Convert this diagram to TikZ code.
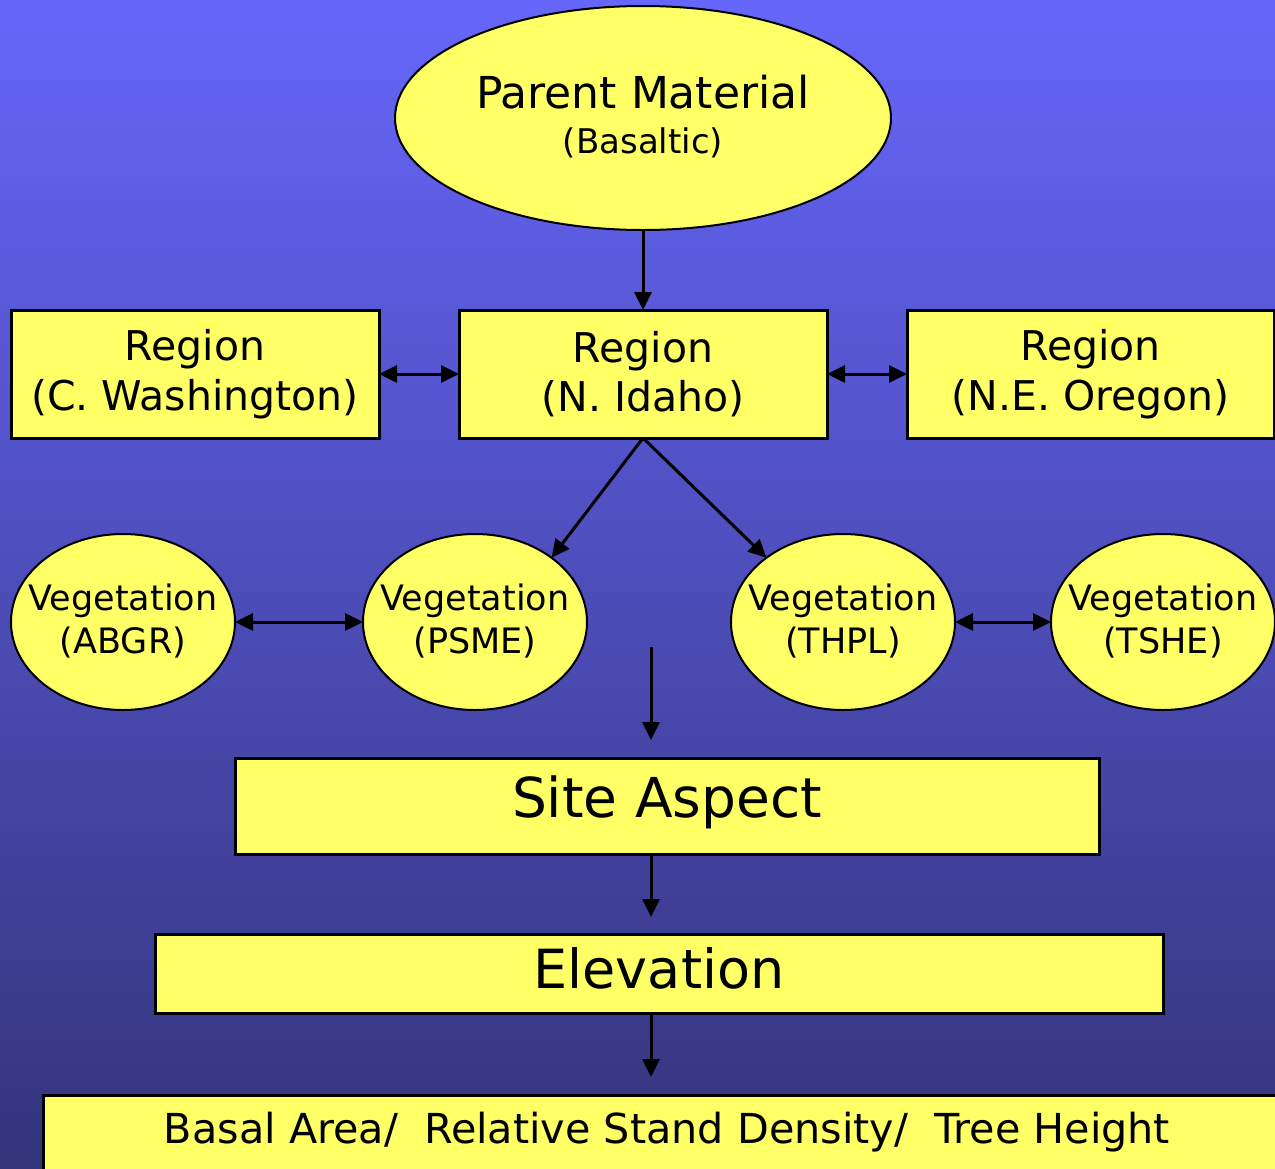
\documentclass[tikz,border=0pt]{standalone}
\usepackage{fontspec}
\setmainfont{DejaVu Sans}
\usetikzlibrary{shapes.geometric,arrows.meta,calc}
\definecolor{bgtop}{RGB}{102,102,250}
\definecolor{bgbot}{RGB}{52,52,122}
\definecolor{boxyellow}{RGB}{255,255,102}
\tikzset{
  ybox/.style={draw=black, line width=3pt, fill=boxyellow, rectangle, inner sep=0pt, outer sep=0pt, align=center},
  yell/.style={draw=black, line width=2pt, fill=boxyellow, ellipse, inner sep=0pt, outer sep=0pt},
  txt/.style={inner sep=0pt, align=center},
  arr/.style={line width=3pt, -{Triangle[length=18pt,width=17pt]}},
  darr/.style={line width=3pt, {Triangle[length=18pt,width=17pt]}-{Triangle[length=18pt,width=17pt]}},
  regfont/.style={font=\fontsize{41}{50}\selectfont},
  vegfont/.style={font=\fontsize{35}{43}\selectfont},
}
\begin{document}
\begin{tikzpicture}[x=1pt,y=-1pt]
\useasboundingbox (0,0) rectangle (1275,1168);
\clip (0,0) rectangle (1275,1168);
\shade[top color=bgtop, bottom color=bgbot] (0,0) rectangle (1275,1168);

% parent material
\node[yell, minimum width=496pt, minimum height=224pt] (parent) at (643,118) {};
\node[txt, font=\fontsize{44}{51}\selectfont] (parenttxt) at (643,92) {Parent Material};
\node[txt, font=\fontsize{34}{40}\selectfont] (basalttxt) at (643,143) {(Basaltic)};

% regions
\node[ybox, regfont, minimum width=368pt, minimum height=128pt] (wash) at (195,374) {\raisebox{3pt}{\shortstack{Region\\[7pt](C. Washington)}}};
\node[ybox, regfont, minimum width=368pt, minimum height=128pt] (idaho) at (643,374) {\raisebox{3pt}{\shortstack{Region\\[7pt](N. Idaho)}}};
\node[ybox, regfont, minimum width=367pt, minimum height=128pt] (oregon) at (1090.5,374) {\raisebox{3pt}{\shortstack{Region\\[7pt](N.E. Oregon)}}};

% vegetation
\node[yell, minimum width=224pt, minimum height=176pt] (abgr) at (123,622) {};
\node[yell, minimum width=224pt, minimum height=176pt] (psme) at (475,622) {};
\node[yell, minimum width=224pt, minimum height=176pt] (thpl) at (843,622) {};
\node[yell, minimum width=224pt, minimum height=176pt] (tshe) at (1163,622) {};
\node[txt, vegfont] (abgrtxt) at ([yshift=1pt]abgr.center) {Vegetation\\(ABGR)};
\node[txt, vegfont] (psmetxt) at ([yshift=1pt]psme.center) {Vegetation\\(PSME)};
\node[txt, vegfont] (thpltxt) at ([yshift=1pt]thpl.center) {Vegetation\\(THPL)};
\node[txt, vegfont] (tshetxt) at ([yshift=1pt]tshe.center) {Vegetation\\(TSHE)};

% site aspect, elevation
\node[ybox, minimum width=864pt, minimum height=96pt] (site) at (667,806) {};
\node[txt, font=\fontsize{55}{60}\selectfont] (sitetxt) at (667,802) {Site Aspect};
\node[ybox, minimum width=1008pt, minimum height=79pt] (elev) at (659,973.5) {};
\node[txt, font=\fontsize{54}{60}\selectfont] (elevtxt) at (659,968) {Elevation};

% bottom box
\node[ybox, anchor=north west, minimum width=1260pt, minimum height=150pt] (basal) at (43,1095) {};
\node[txt, font=\fontsize{41.3}{48}\selectfont] (basaltxt) at (667,1132) {Basal Area/\ \ Relative Stand Density/\ \ Tree Height};

% connectors
\draw[arr] (parent.south) -- (idaho.north);
\draw[darr] (wash.east) -- (idaho.west);
\draw[darr] (idaho.east) -- (oregon.west);
\draw[arr] (idaho.south) -- (psme.40);
\draw[arr] (idaho.south) -- (thpl.140);
\draw[darr] (abgr.east) -- (psme.west);
\draw[darr] (thpl.east) -- (tshe.west);
\coordinate (vtop) at (651,647);
\draw[arr, shorten >=18pt] (vtop) -- (vtop |- site.north);
\draw[arr, shorten >=17pt] (site.south -| vtop) -- (elev.north -| vtop);
\draw[arr, shorten >=18pt] (elev.south -| vtop) -- (basal.north -| vtop);
\end{tikzpicture}
\end{document}
